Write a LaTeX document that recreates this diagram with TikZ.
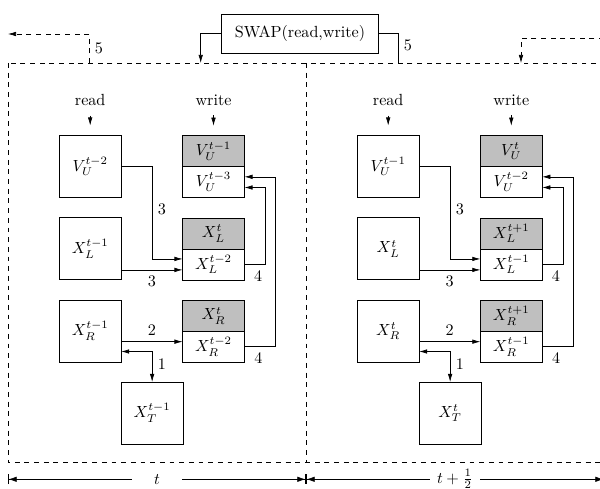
\documentclass[tikz,border=0pt]{standalone}
\usetikzlibrary{arrows.meta,positioning}

\begin{document}
\begin{tikzpicture}[x=0.62pt,y=-0.62pt,>={Latex[length=5pt,width=2.8pt]},
  cell/.style={draw,minimum width=38.4pt,minimum height=38.4pt,inner sep=0pt,outer sep=0pt},
  half/.style={draw,minimum width=38.4pt,minimum height=19.2pt,inner sep=0pt,outer sep=0pt},
  fresh/.style={half,fill=black!25},
  span/.style={fill=white,minimum width=31.6pt,inner sep=0pt},
  dim/.style={{Bar[width=6pt]Latex[length=5pt,width=3.4pt]}-{Latex[length=5pt,width=3.4pt]Bar[width=6pt]}}]
\useasboundingbox (0,0) rectangle (600,489);
% frames of the two half steps
\draw[dashed] (8,63) rectangle (604,462.7);
\draw[dashed] (306,63) -- (306,462.7);
\node[draw,minimum width=97pt,minimum height=24.4pt] (swap) at (300,33.7) {SWAP(read,write)};
\coordinate (out0) at (89.3,63);
\coordinate (lft) at (8,34);
\coordinate (in1) at (200.7,63);
\coordinate (out1) at (398.3,63);
\coordinate (in2) at (521,63);
\coordinate (rgt) at (604,38.3);
\draw[dashed,->] (out0) |- (lft) node[pos=0.25,right]{5};
\draw[->] (swap.west) -| (in1);
\draw (swap.east) -| (out1) node[pos=0.7,right]{5};
\draw[dashed,->] (rgt) -| (in2);

% step t
\node (rd1) at (90.2,100) {read};
\node (wr1) at (213.5,100) {write};
\node[cell] (vu1) at (90.2,166.5) {$V_U^{t-2}$};
\node[cell,below=12.6pt of vu1] (xl1) {$X_L^{t-1}$};
\node[cell,below=12.6pt of xl1] (xr1) {$X_R^{t-1}$};
\node[cell,below right=12.4pt and 0pt of xr1] (xt1) {$X_T^{t-1}$};
\node[fresh] (vun1) at (213.5,151.2) {$V_U^{t-1}$};
\node[half,below=0pt of vun1] (vuo1) {$V_U^{t-3}$};
\node[fresh,below=12.6pt of vuo1] (xln1) {$X_L^{t}$};
\node[half,below=0pt of xln1] (xlo1) {$X_L^{t-2}$};
\node[fresh,below=12.6pt of xlo1] (xrn1) {$X_R^{t}$};
\node[half,below=0pt of xrn1] (xro1) {$X_R^{t-2}$};
\draw[->] ([yshift=-2.6pt]rd1.south) -- ([yshift=6.2pt]vu1.north);
\draw[->] ([yshift=-2.6pt]wr1.south) -- ([yshift=6.2pt]vun1.north);
\draw[->] (vu1.east) -- ++(31,0) |- ([yshift=3.4pt]xlo1.west) node[pos=0.23,right]{3};
\draw[->] ([yshift=-3.4pt]xlo1.west -| xl1.east) -- ([yshift=-3.4pt]xlo1.west) node[midway,below]{3};
\draw[->] (xlo1.east) -- ++(21,0) node[pos=0.65,below]{4} |- ([yshift=-3.3pt]vuo1.east);
\draw[->] (xro1.east) -- ++(31,0) node[pos=0.45,below]{4} |- ([yshift=3.3pt]vuo1.east);
\draw[->] ([yshift=3.1pt]xro1.west -| xr1.east) -- ([yshift=3.1pt]xro1.west) node[midway,above]{2};
\draw[<->] ([yshift=-12.7pt]xr1.east) -| (xt1.north) node[pos=0.7,right]{1};

% step t+1/2
\node (rd2) at (388.2,100) {read};
\node (wr2) at (511.3,100) {write};
\node[cell] (vu2) at (388.2,166.5) {$V_U^{t-1}$};
\node[cell,below=12.6pt of vu2] (xl2) {$X_L^{t}$};
\node[cell,below=12.6pt of xl2] (xr2) {$X_R^{t}$};
\node[cell,below right=12.4pt and 0pt of xr2] (xt2) {$X_T^{t}$};
\node[fresh] (vun2) at (511.3,151.2) {$V_U^{t}$};
\node[half,below=0pt of vun2] (vuo2) {$V_U^{t-2}$};
\node[fresh,below=12.6pt of vuo2] (xln2) {$X_L^{t+1}$};
\node[half,below=0pt of xln2] (xlo2) {$X_L^{t-1}$};
\node[fresh,below=12.6pt of xlo2] (xrn2) {$X_R^{t+1}$};
\node[half,below=0pt of xrn2] (xro2) {$X_R^{t-1}$};
\draw[->] ([yshift=-2.6pt]rd2.south) -- ([yshift=6.2pt]vu2.north);
\draw[->] ([yshift=-2.6pt]wr2.south) -- ([yshift=6.2pt]vun2.north);
\draw[->] (vu2.east) -- ++(31,0) |- ([yshift=3.4pt]xlo2.west) node[pos=0.23,right]{3};
\draw[->] ([yshift=-3.4pt]xlo2.west -| xl2.east) -- ([yshift=-3.4pt]xlo2.west) node[midway,below]{3};
\draw[->] (xlo2.east) -- ++(21,0) node[pos=0.65,below]{4} |- ([yshift=-3.3pt]vuo2.east);
\draw[->] (xro2.east) -- ++(31,0) node[pos=0.45,below]{4} |- ([yshift=3.3pt]vuo2.east);
\draw[->] ([yshift=3.1pt]xro2.west -| xr2.east) -- ([yshift=3.1pt]xro2.west) node[midway,above]{2};
\draw[<->] ([yshift=-12.7pt]xr2.east) -| (xt2.north) node[pos=0.7,right]{1};

% time spans
\coordinate (d0) at (8,479.3);
\coordinate (d1) at (306,479.3);
\coordinate (d2) at (604,479.3);
\draw[dim] (d0) -- (d1) node[midway,span]{$t$};
\draw[dim] (d1) -- (d2) node[midway,span]{$t+\frac{1}{2}$};
\end{tikzpicture}
\end{document}
